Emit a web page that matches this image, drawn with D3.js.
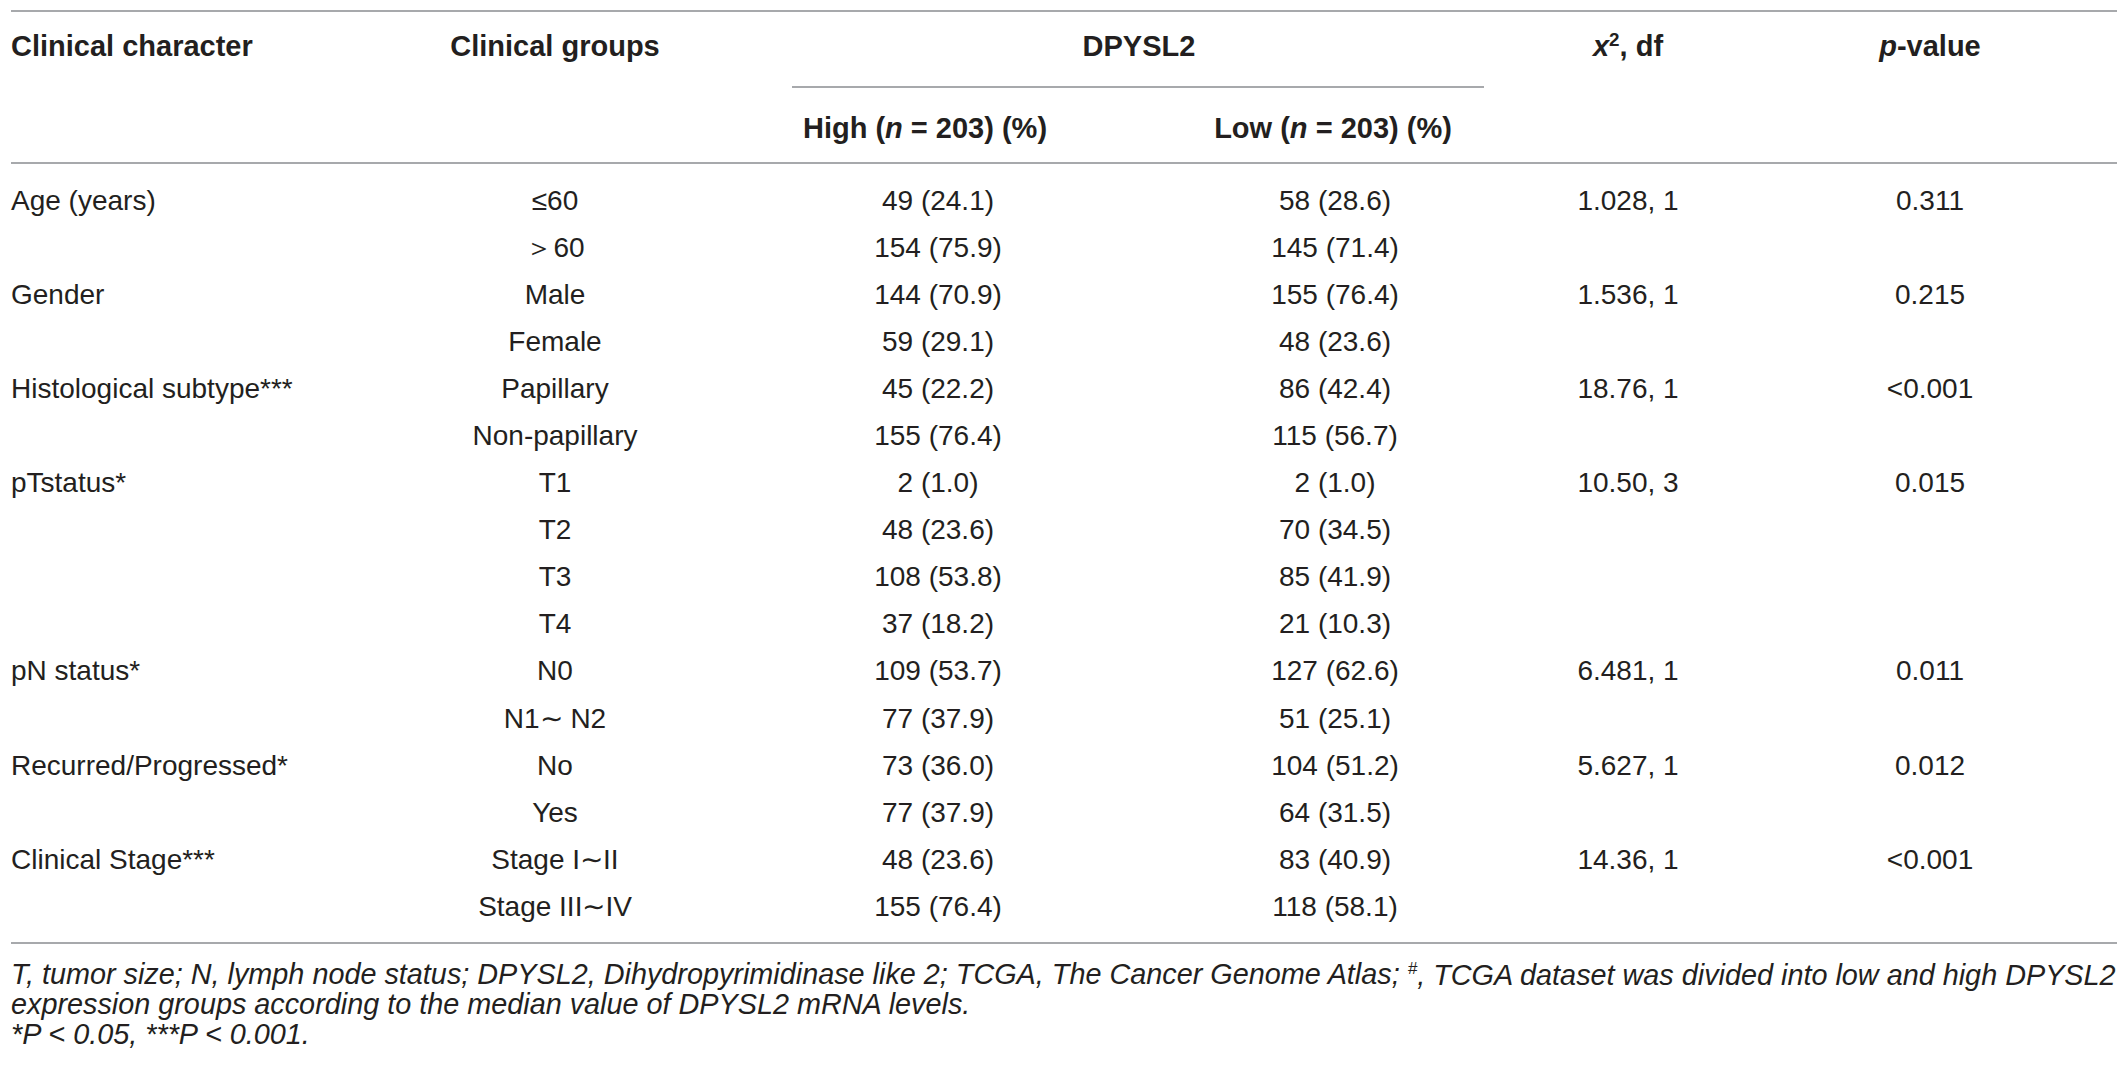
<!DOCTYPE html>
<html>
<head>
<meta charset="utf-8">
<script src="https://cdn.jsdelivr.net/npm/d3@7"></script>
<style>
  body { margin: 0; background: #fff; }
  text { font-family: "Liberation Sans", Arial, sans-serif; fill: #231f20; }
  .hd { font-weight: bold; }
  .ft { font-style: italic; }
</style>
</head>
<body>
<svg id="chart"></svg>
<script>
// table contents
var rowCharacter = ["Age (years)", "", "Gender", "", "Histological subtype***", "",
  "pTstatus*", "", "", "", "pN status*", "", "Recurred/Progressed*", "", "Clinical Stage***", ""];
var rowGroup = ["\u226460", "\uff1e60", "Male", "Female", "Papillary", "Non-papillary",
  "T1", "T2", "T3", "T4", "N0", "N1\u223c N2", "No", "Yes", "Stage I\u223cII", "Stage III\u223cIV"];
var highN = [49, 154, 144, 59, 45, 155, 2, 48, 108, 37, 109, 77, 73, 77, 48, 155];
var highPct = [24.1, 75.9, 70.9, 29.1, 22.2, 76.4, 1.0, 23.6, 53.8, 18.2, 53.7, 37.9, 36.0, 37.9, 23.6, 76.4];
var lowN = [58, 145, 155, 48, 86, 115, 2, 70, 85, 21, 127, 51, 104, 64, 83, 118];
var lowPct = [28.6, 71.4, 76.4, 23.6, 42.4, 56.7, 1.0, 34.5, 41.9, 10.3, 62.6, 25.1, 51.2, 31.5, 40.9, 58.1];
var chiDf = ["1.028, 1", "", "1.536, 1", "", "18.76, 1", "", "10.50, 3", "", "", "",
  "6.481, 1", "", "5.627, 1", "", "14.36, 1", ""];
var pValue = ["0.311", "", "0.215", "", "<0.001", "", "0.015", "", "", "",
  "0.011", "", "0.012", "", "<0.001", ""];
var footnotes = [
  "T, tumor size; N, lymph node status; DPYSL2, Dihydropyrimidinase like 2; TCGA, The Cancer Genome Atlas; #, TCGA dataset was divided into low and high DPYSL2",
  "expression groups according to the median value of DPYSL2 mRNA levels.",
  "*P < 0.05, ***P < 0.001."
];

var W = 2128, H = 1076;
var svg = d3.select('#chart').attr('width', W).attr('height', H);

var fs = 28, hfs = 29, ffs = 28.8;
var colX = { ch: 11, grp: 555, high: 938, low: 1335, chi: 1628, p: 1930 };
var subHeadX = [925, 1333];

var y = d3.scaleLinear().domain([0, rowGroup.length - 1]).range([200, 906]);

function hline(x1, x2, yy) {
  svg.append('line')
    .attr('x1', x1).attr('x2', x2)
    .attr('y1', yy).attr('y2', yy)
    .attr('stroke', '#a7a9ac')
    .attr('stroke-width', 2);
}

hline(11, 2117, 11);
hline(792, 1484, 87);
hline(11, 2117, 163);
hline(11, 2117, 943);

// header
var h1 = 46, h2 = 128;
function head(x, yy, anchor) {
  return svg.append('text').attr('class', 'hd')
    .attr('x', x).attr('y', yy)
    .attr('dy', '0.35em')
    .attr('font-size', hfs)
    .attr('text-anchor', anchor);
}
head(colX.ch, h1, 'start').text('Clinical character');
head(colX.grp, h1, 'middle').text('Clinical groups');
head(1139, h1, 'middle').text('DPYSL2');
var t = head(colX.chi, h1, 'middle');
t.append('tspan').attr('font-style', 'italic').text('x');
t.append('tspan').attr('font-size', hfs * 0.65).attr('dy', '-0.55em').text('2');
t.append('tspan').attr('dy', '0.35em').text(', df');
t = head(colX.p, h1, 'middle');
t.append('tspan').attr('font-style', 'italic').text('p');
t.append('tspan').text('-value');

['High', 'Low'].forEach(function(name, i) {
  var tt = head(subHeadX[i], h2, 'middle');
  tt.append('tspan').text(name + ' (');
  tt.append('tspan').attr('font-style', 'italic').text('n');
  tt.append('tspan').text(' = 203) (%)');
});

// body
var idx = d3.range(rowGroup.length);
function col(x, anchor, fn) {
  svg.append('g').selectAll('text')
    .data(idx)
    .enter()
    .append('text')
    .attr('x', x)
    .attr('y', function(d) { return y(d); })
    .attr('dy', '0.35em')
    .attr('font-size', fs)
    .attr('text-anchor', anchor)
    .text(fn);
}
col(colX.ch, 'start', function(d) { return rowCharacter[d]; });
col(colX.grp, 'middle', function(d) { return rowGroup[d]; });
col(colX.high, 'middle', function(d) { return highN[d] + ' (' + highPct[d].toFixed(1) + ')'; });
col(colX.low, 'middle', function(d) { return lowN[d] + ' (' + lowPct[d].toFixed(1) + ')'; });
col(colX.chi, 'middle', function(d) { return chiDf[d]; });
col(colX.p, 'middle', function(d) { return pValue[d]; });

// footnotes
var fy = d3.scaleLinear().domain([0, 2]).range([974, 1034]);
svg.append('g').selectAll('text')
  .data(footnotes)
  .enter()
  .append('text')
  .attr('class', 'ft')
  .attr('x', 11)
  .attr('y', function(d, i) { return fy(i); })
  .attr('dy', '0.35em')
  .attr('font-size', ffs)
  .each(function(d) {
    var el = d3.select(this);
    var parts = d.split('#');
    el.append('tspan').text(parts[0]);
    if (parts.length > 1) {
      el.append('tspan').attr('font-size', 17).attr('dy', '-0.6em').text('#');
      el.append('tspan').attr('dy', '0.4em').text(parts[1]);
    }
  });
</script>
</body>
</html>
